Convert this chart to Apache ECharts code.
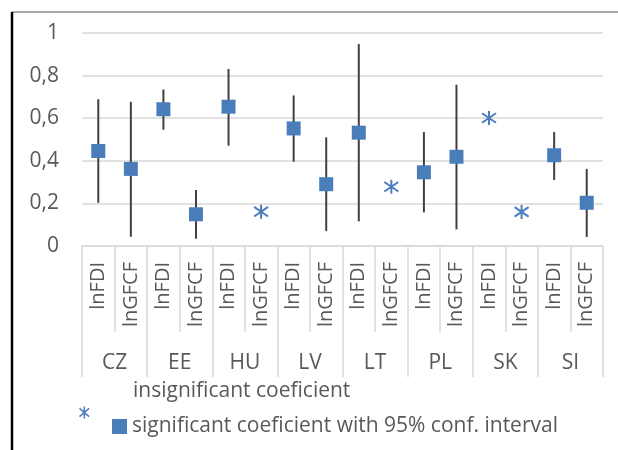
<!DOCTYPE html>
<html>
<head>
<meta charset="utf-8">
<script src="https://cdn.jsdelivr.net/npm/echarts@6/dist/echarts.min.js"></script>
<style>html,body{margin:0;padding:0;background:#fff}#c{width:618px;height:450px}</style>
</head>
<body>
<div id="c"></div>
<script>
const countries = ['CZ', 'EE', 'HU', 'LV', 'LT', 'PL', 'SK', 'SI'];
const variables = ['lnFDI', 'lnGFCF'];
const coef =        [0.446, 0.362, 0.642, 0.149, 0.654, 0.161, 0.552, 0.290, 0.532, 0.278, 0.346, 0.419, 0.601, 0.160, 0.426, 0.203];
const significant = [1, 1, 1, 1, 1, 0, 1, 1, 1, 0, 1, 1, 0, 0, 1, 1];
const ciLow =  [0.203, 0.044, 0.546, 0.034, 0.471, null, 0.396, 0.070, 0.116, null, 0.158, 0.078, null, null, 0.310, 0.042];
const ciHigh = [0.689, 0.677, 0.735, 0.263, 0.831, null, 0.707, 0.510, 0.948, null, 0.535, 0.757, null, null, 0.535, 0.362];
const yTicks = [0, 0.2, 0.4, 0.6, 0.8, 1];

const categories = [];
countries.forEach(() => variables.forEach(v => categories.push(v)));

const sigData = [], insigData = [], ciData = [];
coef.forEach((v, i) => {
  if (significant[i]) sigData.push([i, v]); else insigData.push([i, v]);
  if (ciLow[i] != null) ciData.push([i, ciLow[i], ciHigh[i]]);
});

const BLUE = '#4a7ebb';
const GRID = '#d9d9d9';
const TXT = '#595959';
const FONT = 'Open Sans';
const starPath = 'path://M5,0L5,10M1,1.6L9,8.4M1,8.4L9,1.6';
const SIG = 'significant coeficient with 95% conf. interval';
const INS = 'insignificant coeficient';

const chart = echarts.init(document.getElementById('c'));
chart.setOption({
  animation: false,
  backgroundColor: '#fff',
  textStyle: { fontFamily: FONT },
  grid: { left: 82, right: 15, top: 33, bottom: 204 },
  graphic: [
    { type: 'line', shape: { x1: 12, y1: 12, x2: 618, y2: 12 }, style: { stroke: '#505050', lineWidth: 1.2 }, silent: true },
    { type: 'line', shape: { x1: 12, y1: 12, x2: 12, y2: 450 }, style: { stroke: '#000', lineWidth: 2.5 }, silent: true }
  ],
  legend: [
    { data: [{ name: INS, icon: 'none' }], left: 122, top: 376, itemWidth: 1, itemHeight: 10,
      textStyle: { fontFamily: FONT, fontSize: 21, color: TXT }, selectedMode: false },
    { data: [{ name: INS, icon: starPath }], left: 72, top: 399, itemWidth: 12, itemHeight: 12,
      formatter: () => '', textStyle: { color: 'rgba(0,0,0,0)' }, selectedMode: false,
      itemStyle: { color: 'none', borderColor: BLUE, borderWidth: 1.5 } },
    { data: [{ name: SIG, icon: 'rect' }], left: 107, top: 411, itemWidth: 15, itemHeight: 15,
      textStyle: { fontFamily: FONT, fontSize: 21, color: TXT }, selectedMode: false }
  ],
  xAxis: [
    {
      type: 'category', data: categories, position: 'bottom',
      axisLine: { show: true, lineStyle: { color: GRID, width: 1.5 } },
      axisTick: { show: true, interval: 0, length: 86, lineStyle: { color: GRID, width: 1.5 } },
      axisLabel: { interval: 0, rotate: 90, margin: 16, fontFamily: FONT, fontSize: 20, color: TXT },
      splitLine: { show: false }
    },
    {
      type: 'category', data: countries, position: 'bottom', gridIndex: 0,
      axisLine: { show: false },
      axisTick: { show: true, interval: 0, length: 131, lineStyle: { color: GRID, width: 1.5 } },
      axisLabel: { interval: 0, margin: 107, fontFamily: FONT, fontSize: 21, color: TXT },
      splitLine: { show: false }
    }
  ],
  yAxis: {
    type: 'value', min: 0, max: 1, interval: 0.2,
    axisLine: { show: false }, axisTick: { show: false },
    axisLabel: { margin: 23, fontFamily: FONT, fontSize: 21, color: TXT,
      formatter: v => String(+v.toFixed(1)).replace('.', ',') },
    splitLine: { lineStyle: { color: GRID, width: 1.5 } }
  },
  series: [
    {
      name: 'ci', type: 'custom', xAxisIndex: 0, z: 2,
      data: ciData,
      renderItem: (params, api) => {
        const lo = api.coord([api.value(0), api.value(1)]);
        const hi = api.coord([api.value(0), api.value(2)]);
        return { type: 'line', shape: { x1: lo[0], y1: lo[1], x2: hi[0], y2: hi[1] },
          style: { stroke: '#404040', lineWidth: 2 } };
      }
    },
    {
      name: SIG, type: 'scatter', xAxisIndex: 0, z: 3,
      symbol: 'rect', symbolSize: 14, data: sigData,
      itemStyle: { color: BLUE, opacity: 1 }
    },
    {
      name: INS, type: 'scatter', xAxisIndex: 0, z: 3,
      symbol: starPath, symbolSize: 14, data: insigData,
      itemStyle: { color: 'none', borderColor: BLUE, borderWidth: 2, opacity: 1 }
    }
  ]
});
</script>
</body>
</html>
